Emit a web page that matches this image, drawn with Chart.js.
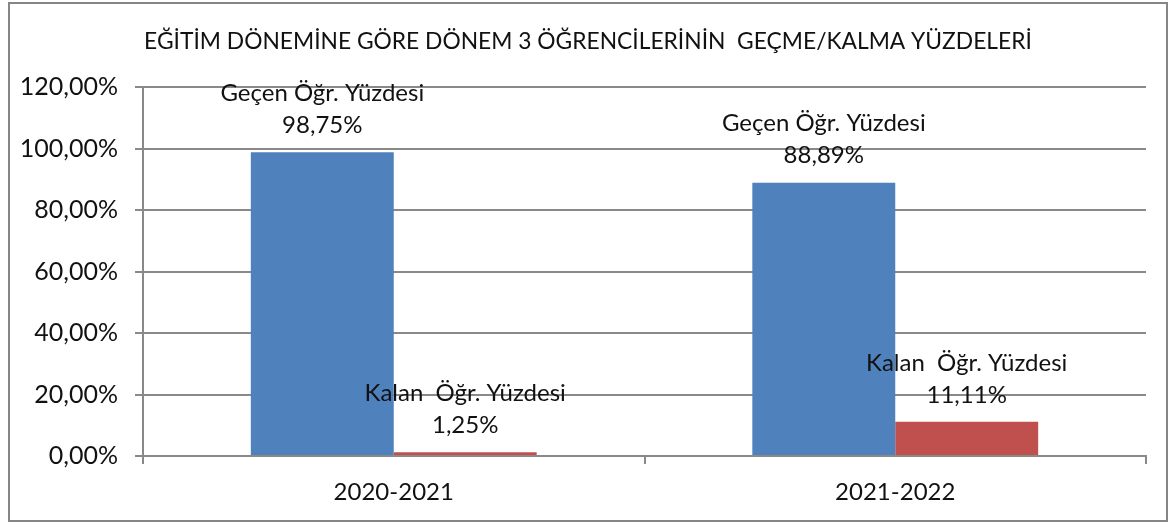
<!DOCTYPE html>
<html>
<head>
<meta charset="utf-8">
<script src="https://cdn.jsdelivr.net/npm/chart.js@4"></script>
<style>
  body { margin: 0; background: #fff; }
  #kutu {
    position: absolute; left: 8px; top: 2px;
    width: 1156px; height: 516px;
    border: 2px solid #868686;
  }
</style>
</head>
<body>
<div id="kutu"><canvas id="grafik" width="1156" height="516"></canvas></div>
<script>
  // veriler
  const donemler = ['2020-2021', '2021-2022'];
  const gecenYuzde = [98.75, 88.89];
  const kalanYuzde = [1.25, 11.11];
  const seriAdlari = ['Geçen Öğr. Yüzdesi', 'Kalan  Öğr. Yüzdesi'];
  const baslik = 'EĞİTİM DÖNEMİNE GÖRE DÖNEM 3 ÖĞRENCİLERİNİN  GEÇME/KALMA YÜZDELERİ';

  const yaziTipi = 'Lato, "Open Sans", sans-serif';
  const gri = '#898989';

  function yuzdeYaz(v) {
    return v.toFixed(2).replace('.', ',') + '%';
  }

  // etiketleri cubuklarin ustune yaz, basligi da ortala
  const etiketEklentisi = {
    id: 'etiketler',
    afterDatasetsDraw(chart) {
      const ctx = chart.ctx;
      ctx.save();
      ctx.fillStyle = '#111';
      ctx.textAlign = 'center';
      ctx.textBaseline = 'middle';

      ctx.font = '22.8px ' + yaziTipi;
      ctx.fillText(baslik, chart.width / 2, 38);

      ctx.font = '24px ' + yaziTipi;
      chart.data.datasets.forEach((ds, i) => {
        const meta = chart.getDatasetMeta(i);
        meta.data.forEach((bar, j) => {
          ctx.fillText(ds.label, bar.x, bar.y - 59);
          ctx.fillText(yuzdeYaz(ds.data[j]), bar.x, bar.y - 27);
        });
      });
      ctx.restore();
    }
  };

  new Chart(document.getElementById('grafik'), {
    type: 'bar',
    data: {
      labels: donemler,
      datasets: [
        { label: seriAdlari[0], data: gecenYuzde, backgroundColor: '#4F81BD' },
        { label: seriAdlari[1], data: kalanYuzde, backgroundColor: '#C0504D' },
      ],
    },
    options: {
      responsive: false,
      animation: false,
      categoryPercentage: 0.57,
      barPercentage: 1,
      layout: { padding: { left: 0, right: 20, top: 83, bottom: 0 } },
      plugins: {
        legend: { display: false },
        tooltip: { enabled: false },
        title: { display: false },
      },
      scales: {
        x: {
          afterFit(axis) { axis.height = 64; },
          grid: { drawOnChartArea: false, drawTicks: true, tickLength: 8, color: gri, lineWidth: 2 },
          border: { display: true, color: gri, width: 2 },
          ticks: { color: '#111', padding: 14, font: { family: yaziTipi, size: 24 } },
        },
        y: {
          min: 0,
          max: 120,
          afterFit(axis) { axis.width = 133; },
          grid: { color: gri, lineWidth: 2, tickLength: 8 },
          border: { display: true, color: gri, width: 2 },
          ticks: {
            stepSize: 20,
            color: '#111',
            padding: 17,
            font: { family: yaziTipi, size: 25 },
            callback: (v) => yuzdeYaz(v),
          },
        },
      },
    },
    plugins: [etiketEklentisi],
  });
</script>
</body>
</html>
